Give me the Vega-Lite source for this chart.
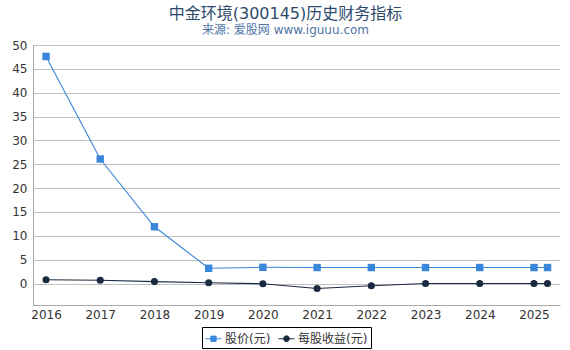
{
  "$schema": "https://vega.github.io/schema/vega-lite/v6.json",
  "width": 527,
  "height": 260,
  "autosize": {"type": "none"},
  "padding": {"left": 33, "top": 45, "right": 10, "bottom": 45},
  "background": "white",
  "config": {
    "font": "DejaVu Sans, Noto Sans CJK SC",
    "view": {"stroke": null}
  },
  "title": {
    "text": "中金环境(300145)历史财务指标",
    "subtitle": "来源: 爱股网 www.iguuu.com",
    "anchor": "middle",
    "dx": -11,
    "offset": 3,
    "fontSize": 16,
    "fontWeight": "normal",
    "color": "#2d4a6c",
    "subtitleFontSize": 12,
    "subtitleColor": "#4f74a6",
    "subtitlePadding": 3
  },
  "data": {
    "values": [
      {"year": 2016, "series": "股价(元)", "value": 47.6},
      {"year": 2017, "series": "股价(元)", "value": 26.1},
      {"year": 2018, "series": "股价(元)", "value": 11.9},
      {"year": 2019, "series": "股价(元)", "value": 3.2},
      {"year": 2020, "series": "股价(元)", "value": 3.4},
      {"year": 2021, "series": "股价(元)", "value": 3.35},
      {"year": 2022, "series": "股价(元)", "value": 3.35},
      {"year": 2023, "series": "股价(元)", "value": 3.35},
      {"year": 2024, "series": "股价(元)", "value": 3.35},
      {"year": 2025, "series": "股价(元)", "value": 3.35},
      {"year": 2025.25, "series": "股价(元)", "value": 3.35},
      {"year": 2016, "series": "每股收益(元)", "value": 0.8},
      {"year": 2017, "series": "每股收益(元)", "value": 0.7},
      {"year": 2018, "series": "每股收益(元)", "value": 0.4},
      {"year": 2019, "series": "每股收益(元)", "value": 0.15},
      {"year": 2020, "series": "每股收益(元)", "value": -0.05},
      {"year": 2021, "series": "每股收益(元)", "value": -1.05},
      {"year": 2022, "series": "每股收益(元)", "value": -0.45},
      {"year": 2023, "series": "每股收益(元)", "value": 0.0},
      {"year": 2024, "series": "每股收益(元)", "value": 0.0},
      {"year": 2025, "series": "每股收益(元)", "value": 0.0},
      {"year": 2025.25, "series": "每股收益(元)", "value": 0.0}
    ]
  },
  "encoding": {
    "x": {
      "field": "year",
      "type": "quantitative",
      "scale": {"domain": [2015.76, 2025.48], "nice": false, "zero": false},
      "axis": {
        "title": null,
        "values": [2016, 2017, 2018, 2019, 2020, 2021, 2022, 2023, 2024, 2025],
        "format": "d",
        "grid": false,
        "ticks": false,
        "domainColor": "#aaaaaa",
        "labelFontSize": 12,
        "labelColor": "#333333",
        "labelPadding": 4
      }
    },
    "y": {
      "field": "value",
      "type": "quantitative",
      "scale": {"domain": [-4.5, 50], "nice": false, "zero": false},
      "axis": {
        "title": null,
        "values": [0, 5, 10, 15, 20, 25, 30, 35, 40, 45, 50],
        "grid": true,
        "gridColor": "#c0c0c0",
        "ticks": false,
        "domainColor": "#aaaaaa",
        "labelFontSize": 12,
        "labelColor": "#333333",
        "labelPadding": 6
      }
    },
    "color": {
      "field": "series",
      "type": "nominal",
      "scale": {"domain": ["股价(元)", "每股收益(元)"], "range": ["#3a86da", "#1a2a40"]},
      "legend": {
        "title": null,
        "orient": "none",
        "legendX": 169,
        "legendY": 282,
        "direction": "horizontal",
        "strokeColor": "#000000",
        "padding": 3,
        "labelFontSize": 12,
        "labelColor": "#333333",
        "symbolSize": 256,
        "symbolStrokeWidth": 1,
        "columnPadding": 5,
        "labelOffset": 3,
        "encode": {
          "symbols": {
            "update": {
              "shape": {"signal": "datum.value === '股价(元)' ? 'M-1,0H-0.33M0.33,0H1M-0.33,-0.33H0.33V0.33H-0.33Z' : 'M-1,0H-0.36M0.36,0H1M0.36,0A0.36,0.36 0 1,1 -0.36,0A0.36,0.36 0 1,1 0.36,0Z'"},
              "stroke": {"signal": "datum.value === '股价(元)' ? '#3a86da' : '#1a2a40'"},
              "fill": {"signal": "datum.value === '股价(元)' ? '#3a86da' : '#1a2a40'"},
              "opacity": {"value": 1}
            }
          }
        }
      }
    }
  },
  "layer": [
    {"mark": {"type": "line", "strokeWidth": 1.1}},
    {
      "transform": [{"filter": "datum.series === '股价(元)'"}],
      "mark": {"type": "point", "filled": true, "opacity": 1, "shape": "square", "size": 55}
    },
    {
      "transform": [{"filter": "datum.series === '每股收益(元)'"}],
      "mark": {"type": "point", "filled": true, "opacity": 1, "shape": "circle", "size": 50}
    }
  ]
}
